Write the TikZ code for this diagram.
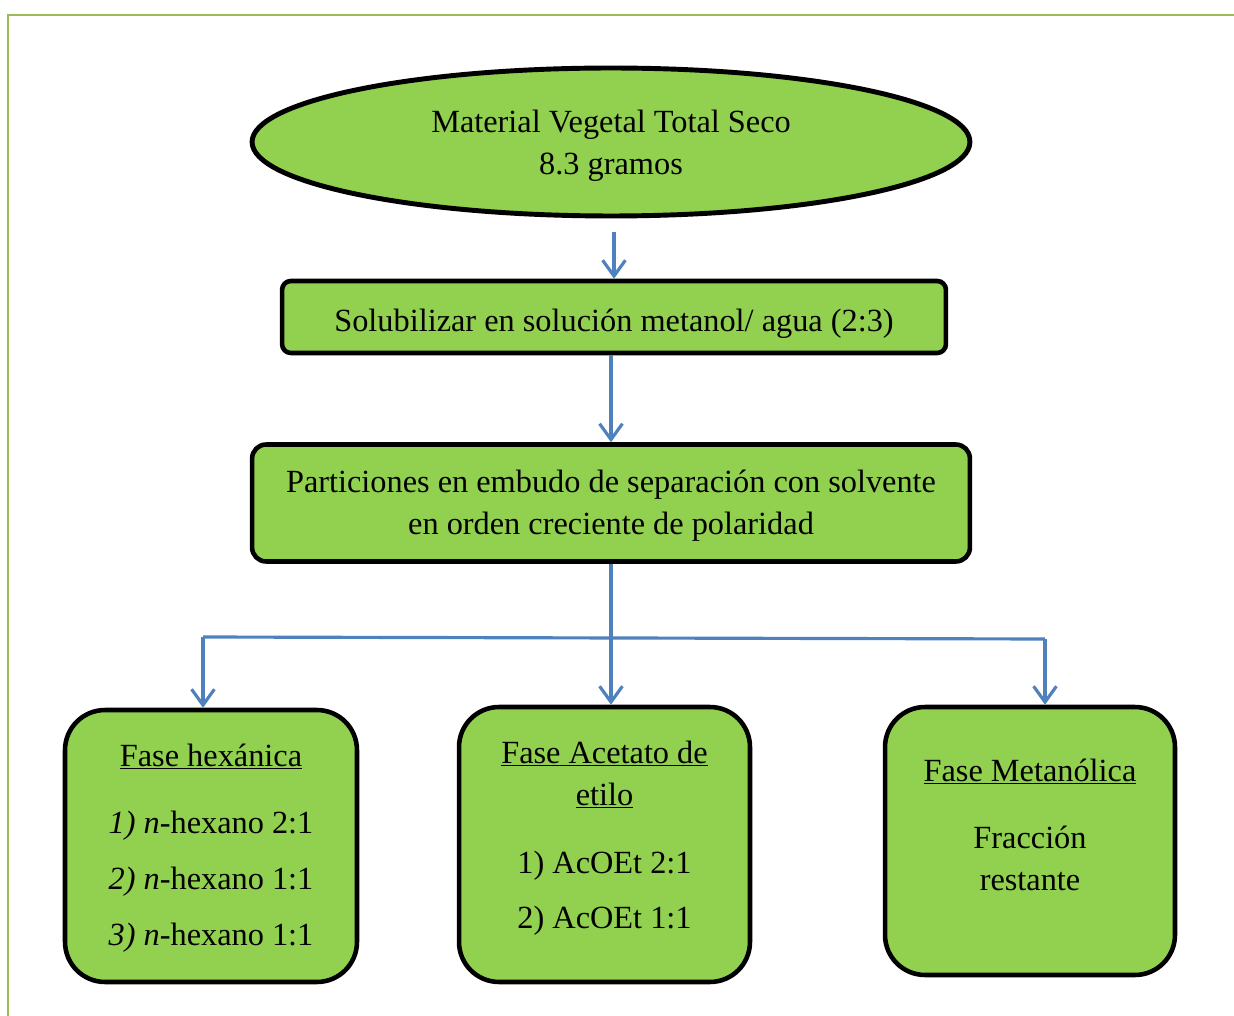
\documentclass[tikz,border=0pt]{standalone}
\usepackage{fontspec}
\setmainfont{Liberation Serif}
\usetikzlibrary{positioning, shapes.geometric, arrows.meta}
\definecolor{leafgreen}{HTML}{92D050}
\definecolor{flowblue}{HTML}{4F81BD}
\definecolor{framegreen}{HTML}{9BBB59}

\begin{document}
\begin{tikzpicture}[x=0.02cm, y=-0.02cm, font=\fontsize{18.4}{22}\selectfont,
    stage/.style={draw=black, line width=2.6pt, fill=leafgreen, rounded corners=#1, inner sep=0pt},
    flow/.style={draw=flowblue, line width=1.8pt, -{Straight Barb[length=9pt, width=13pt]}},
    line/.style={inner sep=0pt, anchor=base}]
    \useasboundingbox (0,0) rectangle (1234,1016);
    % Frame
    \draw[framegreen, line width=1.6pt] (8,1030) -- (8,15) -- (1250,15);

    % Top of the scheme
    \node[ellipse, draw=black, line width=2.8pt, fill=leafgreen, inner sep=0pt,
          minimum width=14.36cm, minimum height=2.96cm] (seco) at (611,142) {};
    \node[stage=5pt, minimum width=13.28cm, minimum height=1.44cm] (solub) at (614,317) {};
    \node[stage=8pt, minimum width=14.36cm, minimum height=2.34cm] (part) at (611,503) {};

    \node[line] (secoA) at (611,133) {Material Vegetal Total Seco};
    \node[line] (secoB) at (611,175) {8.3 gramos};
    \node[line] (solubA) at (614,332) {Solubilizar en solución metanol/ agua (2:3)};
    \node[line] (partA) at (611,493) {Particiones en embudo de separación con solvente};
    \node[line] (partB) at (611,535) {en orden creciente de polaridad};

    % Phases
    \node[stage=0.8cm, minimum width=5.84cm, minimum height=5.44cm] (hex) at (211,846) {};
    \node[stage=0.8cm, minimum width=5.82cm, minimum height=5.5cm] (acet) at (604.5,844.5) {};
    \node[stage=0.8cm, minimum width=5.8cm, minimum height=5.36cm] (metan) at (1030,841) {};

    \node[line] (hexA) at (211,766) {\underline{Fase hexánica}};
    \node[line] (hexB) at (211,833) {\textit{1) n}-hexano 2:1};
    \node[line] (hexC) at (211,889) {\textit{2) n}-hexano 1:1};
    \node[line] (hexD) at (211,945) {\textit{3) n}-hexano 1:1};

    \node[line] (acetA) at (604.5,763) {\underline{Fase Acetato de}};
    \node[line] (acetB) at (604.5,805) {\underline{etilo}};
    \node[line] (acetC) at (604.5,873) {1) AcOEt 2:1};
    \node[line] (acetD) at (604.5,928) {2) AcOEt 1:1};

    \node[line] (metanA) at (1030,781) {\underline{Fase Metanólica}};
    \node[line] (metanB) at (1030,848) {Fracción};
    \node[line] (metanC) at (1030,890) {restante};

    % Connectors
    \draw[flow, shorten <=8pt] (solub.north |- seco.south) -- (solub.north);
    \draw[flow] (solub.south -| part.north) -- (part.north);
    \draw[flow] (part.south) -- (part.south |- acet.north);
    \coordinate (lft) at (203,637);
    \coordinate (rgt) at (1045,639);
    \draw[flowblue, line width=1.8pt] (lft) -- (rgt);
    \draw[flow] (lft) -- (lft |- hex.north);
    \draw[flow] (rgt) -- (rgt |- metan.north);
\end{tikzpicture}
\end{document}
